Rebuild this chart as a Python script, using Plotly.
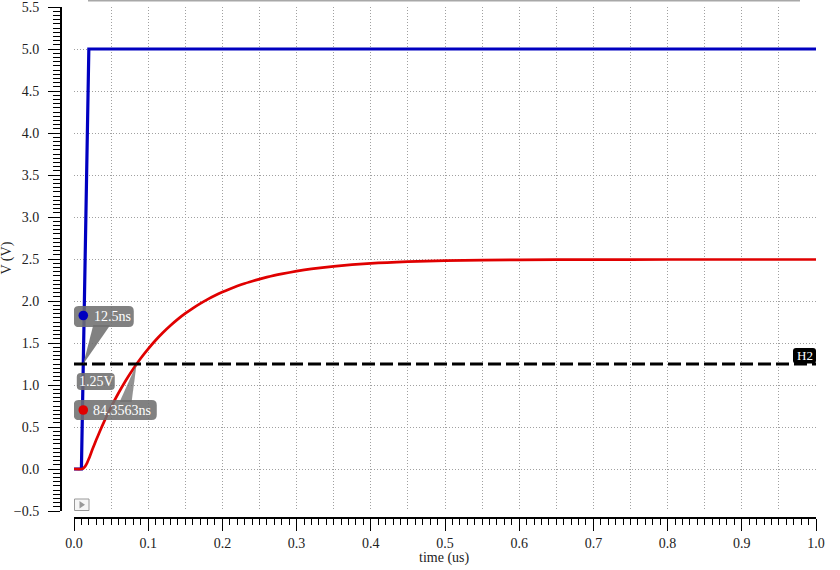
import plotly.graph_objects as go

# ---------------- data ----------------
t_in = [0.0, 0.01, 0.02, 1.0]            # time (us)
v_in = [0.0, 0.0, 5.0, 5.0]              # V

t_out = [0.0, 0.01, 0.0125, 0.015, 0.0175, 0.02, 0.025, 0.03, 0.035, 0.04, 0.05, 0.06, 0.07,
         0.08, 0.09, 0.10, 0.11, 0.12, 0.13, 0.14, 0.15, 0.16, 0.17, 0.18, 0.19, 0.20,
         0.21, 0.22, 0.23, 0.24, 0.25, 0.26, 0.27, 0.28, 0.30, 0.32, 0.35, 0.40, 0.45,
         0.50, 0.60, 0.70, 0.80, 0.90, 1.00]
v_out = [0.0, 0.0, 0.008, 0.031, 0.069, 0.121, 0.237, 0.347, 0.452, 0.552, 0.738, 0.905, 1.057,
         1.194, 1.319, 1.431, 1.533, 1.625, 1.708, 1.784, 1.852, 1.913, 1.969, 2.020, 2.065, 2.107,
         2.144, 2.178, 2.209, 2.236, 2.261, 2.284, 2.305, 2.323, 2.355, 2.382, 2.412, 2.447, 2.468,
         2.480, 2.490, 2.493, 2.494, 2.494, 2.494]

H2_LEVEL = 1.25
H2_NAME = "H2"
cross_in = 0.0125        # us  (12.5ns)
cross_out = 0.0843563    # us  (84.3563ns)
lbl_in = "12.5ns"
lbl_out = "84.3563ns"
lbl_level = "1.25V"

X_RANGE = [0.0, 1.0]
Y_RANGE = [-0.5, 5.5]

BLUE = "#0000c0"
RED = "#e00000"
FONT = "Liberation Serif"

# ---------------- geometry ----------------
W, H = 840, 570
ML, MR, MT, MB = 61, 24, 7, 52
PW, PH = W - ML - MR, H - MT - MB
def px2paper_x(px): return (px - ML) / PW
def px2paper_y(py): return (H - MB - py) / PH

fig = go.Figure()
fig.add_trace(go.Scatter(x=t_in, y=v_in, mode="lines", line=dict(color=BLUE, width=3.2),
                         showlegend=False, hoverinfo="skip"))
fig.add_trace(go.Scatter(x=t_out, y=v_out, mode="lines",
                         line=dict(color=RED, width=2.7, shape="spline", smoothing=0.6),
                         showlegend=False, hoverinfo="skip"))
fig.add_trace(go.Scatter(x=X_RANGE, y=[H2_LEVEL, H2_LEVEL], mode="lines",
                         line=dict(color="black", width=3, dash="13px,5px"),
                         showlegend=False, hoverinfo="skip"))
# helper trace so the overlay (minor tick) axis is drawn
fig.add_trace(go.Scatter(x=[0], y=[-10], xaxis="x2", mode="markers",
                         marker=dict(opacity=0), showlegend=False, hoverinfo="skip"))

def rrect(x0, y0, x1, y1, r):
    return (f"M {x0+r},{y0} L {x1-r},{y0} Q {x1},{y0} {x1},{y0+r} L {x1},{y1-r} "
            f"Q {x1},{y1} {x1-r},{y1} L {x0+r},{y1} Q {x0},{y1} {x0},{y1-r} "
            f"L {x0},{y0+r} Q {x0},{y0} {x0+r},{y0} Z")

def pshape(path, xa, ya, fill, lw=0, lc="rgba(0,0,0,0)"):
    return dict(type="path", xref="x", yref="y", xsizemode="pixel", ysizemode="pixel",
                xanchor=xa, yanchor=ya, path=path, fillcolor=fill,
                line=dict(width=lw, color=lc), layer="above")

def pcircle(xa, ya, cx, cy, r, fill):
    return dict(type="circle", xref="x", yref="y", xsizemode="pixel", ysizemode="pixel",
                xanchor=xa, yanchor=ya, x0=cx - r, x1=cx + r, y0=cy - r, y1=cy + r,
                fillcolor=fill, line=dict(width=0), layer="above")

GRAY = "rgba(112,112,112,0.88)"
shapes = [
    # pointers
    pshape("M 0,0 L 10,39 L 27,39 Z", cross_in, H2_LEVEL, GRAY),
    pshape("M 0,0 L -17,-38 L -5,-38 Z", cross_out, H2_LEVEL, "rgba(110,110,110,0.75)"),
    # label boxes
    pshape(rrect(-9.5, 37, 50.5, 58, 5), cross_in, H2_LEVEL, GRAY),
    pshape(rrect(-6.5, -26, 31.5, -9, 4), cross_in, H2_LEVEL, GRAY),
    pshape(rrect(-9.5, -56, 73.5, -36, 5), cross_in, H2_LEVEL, GRAY),
    # dots
    pcircle(cross_in, H2_LEVEL, 0, 48.5, 4.8, BLUE),
    pcircle(cross_in, H2_LEVEL, 0, -46, 4.8, RED),
    # H2 tag
    pshape(rrect(-23, 0.5, 0, 16, 3), X_RANGE[1], H2_LEVEL, "black"),
    # small play icon
    pshape("M 0.5,0.5 L 15,0.5 L 15,12 L 0.5,12 Z", X_RANGE[0], Y_RANGE[0], "#f6f6f6", 1, "#999999"),
    pshape("M 5.5,2.5 L 5.5,10 L 11,6.25 Z", X_RANGE[0], Y_RANGE[0], "#999999"),
    # top scroll line
    dict(type="line", xref="paper", yref="paper", x0=px2paper_x(88), x1=px2paper_x(800),
         y0=px2paper_y(0.5), y1=px2paper_y(0.5), line=dict(color="#a8a8a8", width=2)),
]

ann_font = dict(family=FONT, size=14, color="white")
annotations = [
    dict(x=cross_in, y=H2_LEVEL, xref="x", yref="y", text=lbl_in, showarrow=False,
         xshift=29, yshift=47.5, font=ann_font, xanchor="center", yanchor="middle"),
    dict(x=cross_in, y=H2_LEVEL, xref="x", yref="y", text=lbl_level, showarrow=False,
         xshift=13.5, yshift=-17.5, font=ann_font, xanchor="center", yanchor="middle"),
    dict(x=cross_in, y=H2_LEVEL, xref="x", yref="y", text=lbl_out, showarrow=False,
         xshift=39, yshift=-46, font=ann_font, xanchor="center", yanchor="middle"),
    dict(x=X_RANGE[1], y=H2_LEVEL, xref="x", yref="y", text=H2_NAME, showarrow=False,
         xshift=-11.5, yshift=8.5, font=dict(family=FONT, size=13, color="white"),
         xanchor="center", yanchor="middle"),
    dict(x=px2paper_x(6.5), y=px2paper_y(258), xref="paper", yref="paper", text="V (V)",
         textangle=-90, showarrow=False, font=dict(family=FONT, size=14, color="#222"),
         xanchor="center", yanchor="middle"),
    dict(x=px2paper_x(444), y=px2paper_y(558), xref="paper", yref="paper", text="time (us)",
         showarrow=False, font=dict(family=FONT, size=14, color="#222"),
         xanchor="center", yanchor="middle"),
]

grid = dict(showgrid=True, gridcolor="#a0a0a0", gridwidth=1, griddash="1px,2px")
tickfont = dict(family=FONT, size=14, color="#222")

fig.update_layout(
    width=W, height=H, autosize=False,
    margin=dict(l=ML, r=MR, t=MT, b=MB, pad=0),
    paper_bgcolor="white", plot_bgcolor="white",
    shapes=shapes, annotations=annotations,
    xaxis=dict(domain=[px2paper_x(74), 1], range=X_RANGE, anchor="free", position=0,
               showline=True, linecolor="black", linewidth=2, zeroline=False,
               ticks="outside", ticklen=12, tickwidth=1, tickcolor="black",
               dtick=0.1, tick0=0, tickformat=".1f", tickfont=tickfont,
               ticklabeloverflow="allow",
               minor=dict(dtick=0.05, tick0=0, ticks="outside", ticklen=6, tickcolor="black",
                          showgrid=True, gridcolor="#a0a0a0", griddash="1px,2px"),
               automargin=False, fixedrange=True, **grid),
    xaxis2=dict(overlaying="x", range=X_RANGE, anchor="free", position=0,
                showline=False, zeroline=False, showgrid=False, showticklabels=False,
                ticks="outside", ticklen=6, tickwidth=1, tickcolor="black",
                dtick=0.01, tick0=0, automargin=False, fixedrange=True),
    yaxis=dict(domain=[px2paper_y(511), 1], range=Y_RANGE, anchor="free", position=0,
               showline=True, linecolor="black", linewidth=2, zeroline=False,
               ticks="outside", ticklen=12, tickwidth=1, tickcolor="black",
               dtick=0.5, tick0=0, tickformat=".1f", tickfont=tickfont,
               ticklabelstandoff=6, ticklabeloverflow="allow",
               minor=dict(dtick=0.05, tick0=0, ticks="outside", ticklen=7, tickcolor="black",
                          showgrid=False),
               automargin=False, fixedrange=True, **grid),
)

fig.write_html("out.html", config={"displayModeBar": False},
               post_script="document.body.style.margin='0px';document.body.style.overflow='hidden';")
